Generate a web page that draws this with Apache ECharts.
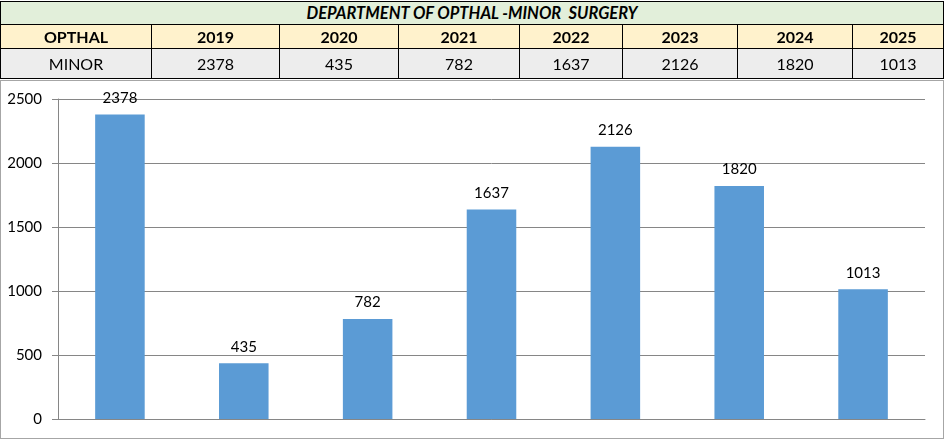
<!DOCTYPE html>
<html>
<head>
<meta charset="utf-8">
<script src="https://cdn.jsdelivr.net/npm/echarts@6/dist/echarts.min.js"></script>
<style>
  html, body { margin:0; padding:0; background:#fff; width:945px; height:440px; overflow:hidden; }
  #tbl { position:absolute; left:0; top:1px; border-collapse:collapse; font-family:Lato, "Noto Sans", sans-serif; font-size:16px; color:#000; table-layout:fixed; }
  #tbl td { border:1px solid #000; padding:0; text-align:center; overflow:hidden; white-space:nowrap; line-height:18px; }
  #tbl tr.t td { background:#E2EFDA; height:22px; font-weight:bold; font-style:italic; font-size:16.5px; }
  #tbl tr.h td { background:#FFF2CC; height:23px; font-weight:bold; }
  #tbl tr.d td { background:#EDEDED; height:29px; }
  #frame { position:absolute; left:0; top:80px; width:942px; height:357px; border:1px solid #A6A6A6; }
  #chart { position:absolute; left:0; top:0; width:945px; height:440px; }
</style>
</head>
<body>
<div id="frame"></div>
<div id="chart"></div>
<table id="tbl"></table>
<script>
const title = "DEPARTMENT OF OPTHAL -MINOR  SURGERY";
const rowHeader = "OPTHAL";
const rowLabel = "MINOR";
const categories = ["2019", "2020", "2021", "2022", "2023", "2024", "2025"];
const values = [2378, 435, 782, 1637, 2126, 1820, 1013];
const yTicks = [0, 500, 1000, 1500, 2000, 2500];

const colWidths = [151, 128, 119, 121, 103, 115, 115, 91];
const tbl = document.getElementById('tbl');
let html = '<colgroup>' + colWidths.map(w => '<col style="width:' + w + 'px">').join('') + '</colgroup>';
html += '<tr class="t"><td colspan="8">' + title.replace(/  /g, ' &nbsp;') + '</td></tr>';
html += '<tr class="h"><td>' + rowHeader + '</td>' + categories.map(c => '<td>' + c + '</td>').join('') + '</tr>';
html += '<tr class="d"><td>' + rowLabel + '</td>' + values.map(v => '<td>' + v + '</td>').join('') + '</tr>';
tbl.innerHTML = html;

const chart = echarts.init(document.getElementById('chart'), null, { renderer: 'canvas' });
chart.setOption({
  animation: false,
  textStyle: { fontFamily: 'Lato, "Noto Sans", sans-serif' },
  grid: { left: 58, right: 20, top: 99, bottom: 21, containLabel: false },
  xAxis: {
    type: 'category',
    data: categories,
    axisLine: { show: true, lineStyle: { color: '#868686', width: 1 } },
    axisTick: { show: false },
    axisLabel: { show: false }
  },
  yAxis: {
    type: 'value',
    min: yTicks[0],
    max: yTicks[yTicks.length - 1],
    interval: 500,
    axisLine: { show: true, lineStyle: { color: '#868686', width: 1 } },
    axisTick: { show: true, length: 6, lineStyle: { color: '#868686' } },
    axisLabel: { color: '#000', fontSize: 15, margin: 16, formatter: v => String(v) },
    splitLine: { show: true, lineStyle: { color: '#868686', width: 1 } }
  },
  series: [{
    type: 'bar',
    data: values,
    barWidth: '40%',
    itemStyle: { color: '#5B9BD5' },
    label: { show: true, position: 'top', distance: 9, color: '#000', fontSize: 15 }
  }]
});
</script>
</body>
</html>
